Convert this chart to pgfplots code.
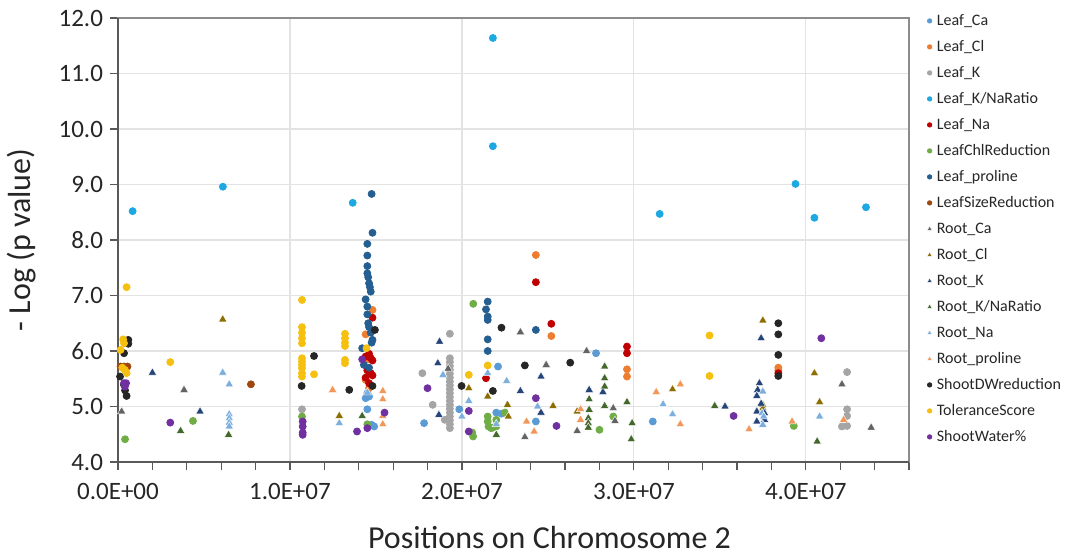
\documentclass[border=0pt]{standalone}
\usepackage{pgfplots}
\pgfplotsset{compat=1.18}
\usepackage{fontspec}
\setmainfont{Carlito}
\definecolor{cLeafCa}{HTML}{5B9BD5}
\definecolor{cLeafCl}{HTML}{ED7D31}
\definecolor{cLeafK}{HTML}{A5A5A5}
\definecolor{cLeafKNa}{HTML}{1CA9E1}
\definecolor{cLeafNa}{HTML}{C00000}
\definecolor{cChl}{HTML}{70AD47}
\definecolor{cLeafPro}{HTML}{255E91}
\definecolor{cSize}{HTML}{9E480E}
\definecolor{cRootCa}{HTML}{636363}
\definecolor{cRootCl}{HTML}{8C6D00}
\definecolor{cRootK}{HTML}{264478}
\definecolor{cRootKNa}{HTML}{43682B}
\definecolor{cRootNa}{HTML}{7CAFDD}
\definecolor{cRootPro}{HTML}{F1975A}
\definecolor{cDW}{HTML}{262626}
\definecolor{cTol}{HTML}{F5C010}
\definecolor{cWater}{HTML}{7030A0}
\definecolor{gridgray}{HTML}{E3E3E3}
\definecolor{axgray}{HTML}{595959}
\pgfplotsset{
  dot/.style={only marks, mark=*, mark size=1.75pt, color=#1, mark options={fill=#1, draw=#1},
    legend image code/.code={\draw[only marks, mark=*, mark size=1.1pt, color=#1, fill=#1] plot coordinates {(0pt,0pt)};}},
  tri/.style={only marks, mark=triangle*, mark size=2.4pt, color=#1, mark options={fill=#1, draw=white, line width=0.2pt},
    legend image code/.code={\draw[only marks, mark=triangle*, mark size=1.4pt, color=#1, fill=#1] plot coordinates {(0pt,0pt)};}},
}
\begin{document}
\begin{tikzpicture}
\useasboundingbox (-59pt,-47.5pt) rectangle (478pt,231pt);
\begin{axis}[
  scale only axis, width=395.5pt, height=222pt,
  xmin=0, xmax=46, ymin=4, ymax=12,
  xtick={0,10,20,30,40},
  xticklabels={0.0E+00,1.0E+07,2.0E+07,3.0E+07,4.0E+07},
  minor xtick={2,4,...,46},
  ytick={4,5,...,12},
  /pgf/number format/assume math mode=true,
  y tick label style={/pgf/number format/.cd, fixed, fixed zerofill, precision=1},
  tick label style={font=\fontsize{12.5}{14}\selectfont, text=black!85},
  xticklabel style={yshift=-3pt},
  grid=major, major grid style={draw=gridgray, line width=0.6pt},
  tick align=outside, tick pos=left,
  major tick length=4pt, minor tick length=4pt,
  tick style={draw=axgray, line width=0.6pt},
  axis line style={draw=black!45, line width=0.8pt},
  xlabel={Positions on Chromosome 2},
  ylabel={- Log (p value)},
  label style={font=\fontsize{16}{18}\selectfont, text=black!85},
  xlabel style={at={([xshift=18pt,yshift=-43pt]axis description cs:0.5,0)}, anchor=base},
  ylabel style={at={([xshift=-48pt]axis description cs:0,0.5)}, anchor=center},
  legend style={at={([xshift=8.9pt,yshift=2.5pt]axis description cs:1,1)}, anchor=north west,
    draw=none, fill=none, inner sep=0pt, column sep=2.4pt, row sep=5.5pt,
    font=\fontsize{8}{9}\selectfont,
    nodes={inner sep=0pt, text height=6pt, text depth=1.5pt, text=black!85}},
  legend cell align=left,
  clip=false,
]
\addplot[dot=cLeafCa] coordinates {(14.5,5.24) (14.6,5.18) (14.4,5.15) (14.5,4.95) (14.75,4.67) (14.9,4.64) (17.8,4.70) (19.85,4.95) (22.1,5.72) (22.0,4.89) (22.3,4.87) (24.3,4.73) (27.8,5.96) (31.1,4.73)};
\addlegendentry{Leaf\_Ca}
\addplot[dot=cLeafCl] coordinates {(14.8,6.74) (14.4,6.30) (14.5,5.85) (14.4,5.48) (14.6,5.33) (24.3,7.73) (25.2,6.27) (29.6,5.67) (29.6,5.54) (38.4,5.70) (38.4,5.65)};
\addlegendentry{Leaf\_Cl}
\addplot[dot=cLeafK] coordinates {(19.3,6.31) (19.3,5.87) (19.3,5.80) (19.3,5.73) (19.3,5.66) (19.3,5.59) (19.3,5.52) (19.3,5.45) (19.3,5.38) (19.3,5.31) (19.3,5.24) (19.3,5.17) (19.3,5.10) (19.3,5.03) (19.3,4.96) (19.3,4.89) (19.3,4.82) (19.3,4.75) (19.3,4.68) (19.3,4.61) (17.7,5.60) (18.3,5.03) (19.0,4.76) (10.7,4.95) (42.4,5.62) (42.4,4.95) (42.4,4.83) (42.1,4.64) (42.4,4.65)};
\addlegendentry{Leaf\_K}
\addplot[dot=cLeafKNa] coordinates {(0.85,8.52) (6.1,8.96) (13.65,8.67) (21.8,11.64) (21.8,9.69) (31.5,8.47) (39.4,9.01) (40.5,8.40) (43.5,8.59)};
\addlegendentry{Leaf\_K/NaRatio}
\addplot[dot=cLeafNa] coordinates {(14.8,6.60) (14.6,5.95) (14.4,5.90) (14.7,5.87) (14.8,5.83) (14.5,5.65) (14.7,5.60) (14.8,5.56) (14.4,5.52) (14.6,5.42) (21.4,5.51) (24.3,7.24) (25.2,6.49) (29.6,6.08) (29.6,5.96) (38.4,5.60)};
\addlegendentry{Leaf\_Na}
\addplot[dot=cChl] coordinates {(0.41,4.41) (4.36,4.74) (10.7,4.82) (14.5,4.68) (20.66,6.85) (21.5,4.82) (21.5,4.73) (21.55,4.64) (21.7,4.61) (22.0,4.76) (22.0,4.64) (21.8,4.62) (20.6,4.53) (20.65,4.46) (22.5,4.89) (28.8,4.82) (28.0,4.58) (39.3,4.65)};
\addlegendentry{LeafChlReduction}
\addplot[dot=cLeafPro] coordinates {(14.75,8.83) (14.8,8.13) (14.5,7.93) (14.5,7.72) (14.5,7.53) (14.5,7.40) (14.55,7.33) (14.6,7.22) (14.65,7.15) (14.7,7.07) (14.4,6.93) (14.5,6.80) (14.5,6.66) (14.55,6.50) (14.6,6.43) (14.7,6.33) (14.8,6.20) (14.75,6.15) (14.2,6.05) (14.3,5.75) (14.6,5.70) (21.5,6.89) (21.4,6.75) (21.5,6.62) (21.5,6.56) (21.5,6.21) (21.5,6.00) (24.3,6.38)};
\addlegendentry{Leaf\_proline}
\addplot[dot=cSize] coordinates {(0.15,5.72) (0.35,5.72) (0.55,5.72) (7.73,5.40)};
\addlegendentry{LeafSizeReduction}
\addplot[tri=cRootCa] coordinates {(0.21,4.91) (3.84,5.30) (19.2,5.68) (23.4,6.34) (23.66,4.45) (24.9,5.75) (27.25,6.0) (26.7,4.56) (28.8,4.97) (28.9,4.74) (42.1,5.40) (43.8,4.62)};
\addlegendentry{Root\_Ca}
\addplot[tri=cRootCl] coordinates {(6.09,6.57) (12.87,4.83) (20.4,5.33) (21.5,5.18) (22.65,5.03) (22.7,4.82) (25.3,5.01) (26.7,4.91) (32.25,5.31) (37.5,6.55) (37.5,5.03) (37.5,4.97) (40.5,5.60) (40.8,5.08)};
\addlegendentry{Root\_Cl}
\addplot[tri=cRootK] coordinates {(2.0,5.61) (4.77,4.91) (18.7,6.17) (18.6,5.78) (18.66,4.85) (23.4,5.28) (24.6,5.54) (24.6,4.89) (27.4,5.30) (28.2,5.26) (35.3,5.0) (37.4,6.23) (37.3,5.42) (37.2,5.30) (37.15,5.19) (37.15,4.91) (37.15,4.73) (37.6,4.76) (37.4,5.05) (37.6,4.88)};
\addlegendentry{Root\_K}
\addplot[tri=cRootKNa] coordinates {(3.64,4.56) (6.43,4.49) (14.2,4.83) (22.0,4.49) (28.3,5.72) (28.3,5.51) (28.3,5.36) (28.3,5.01) (27.4,5.13) (27.4,4.94) (27.35,4.79) (27.35,4.70) (27.35,4.62) (29.6,5.08) (29.9,4.70) (29.85,4.41) (34.7,5.01) (40.66,4.37)};
\addlegendentry{Root\_K/NaRatio}
\addplot[tri=cRootNa] coordinates {(6.09,5.61) (6.47,5.40) (6.47,4.86) (6.47,4.79) (6.47,4.71) (6.47,4.64) (12.87,4.70) (14.5,5.25) (18.9,5.57) (20.4,5.10) (20.0,4.82) (21.5,5.60) (22.6,5.46) (22.0,4.68) (24.4,5.00) (31.7,5.04) (32.25,4.86) (37.5,5.27) (37.45,4.88) (37.55,4.82) (37.5,4.67) (40.8,4.82)};
\addlegendentry{Root\_Na}
\addplot[tri=cRootPro] coordinates {(12.48,5.30) (15.4,5.28) (15.4,5.13) (15.4,4.83) (15.4,4.68) (23.76,4.73) (24.2,4.55) (26.9,4.95) (26.9,4.76) (31.3,5.26) (32.7,5.40) (32.7,4.68) (36.7,4.59) (39.2,4.73) (42.2,4.76)};
\addlegendentry{Root\_proline}
\addplot[dot=cDW] coordinates {(0.6,6.20) (0.6,6.13) (0.35,5.96) (0.12,5.54) (0.35,5.39) (0.41,5.29) (0.5,5.19) (10.68,5.37) (11.4,5.91) (13.45,5.30) (14.94,6.38) (14.8,5.37) (19.98,5.37) (22.3,6.42) (21.8,5.28) (23.66,5.74) (26.3,5.79) (38.4,6.50) (38.4,6.30) (38.4,5.93) (38.4,5.55)};
\addlegendentry{ShootDWreduction}
\addplot[dot=cTol] coordinates {(0.5,7.15) (0.3,6.21) (0.35,6.14) (0.15,6.02) (0.4,5.66) (0.5,5.60) (0.25,5.70) (3.04,5.80) (10.7,6.92) (10.7,6.43) (10.7,6.33) (10.7,6.23) (10.7,6.14) (10.7,5.87) (10.7,5.81) (10.7,5.75) (10.7,5.69) (10.7,5.60) (10.7,5.54) (11.4,5.58) (13.2,6.31) (13.2,6.23) (13.2,6.15) (13.2,6.09) (13.2,5.84) (13.2,5.78) (14.45,6.05) (20.4,5.57) (21.5,5.74) (34.4,6.28) (34.4,5.55)};
\addlegendentry{ToleranceScore}
\addplot[dot=cWater] coordinates {(0.35,5.42) (0.47,5.42) (0.4,5.36) (3.04,4.71) (10.74,4.73) (10.74,4.64) (10.74,4.53) (10.74,4.49) (14.2,5.85) (13.9,4.55) (14.5,4.61) (15.5,4.89) (18.0,5.33) (20.4,4.92) (20.4,4.55) (24.3,5.15) (25.5,4.65) (35.8,4.83) (40.9,6.23)};
\addlegendentry{ShootWater\%}
\draw[axgray, line width=0.9pt] (rel axis cs:0,1) -- (rel axis cs:0,0) -- (rel axis cs:1,0);
\end{axis}
\end{tikzpicture}
\end{document}
